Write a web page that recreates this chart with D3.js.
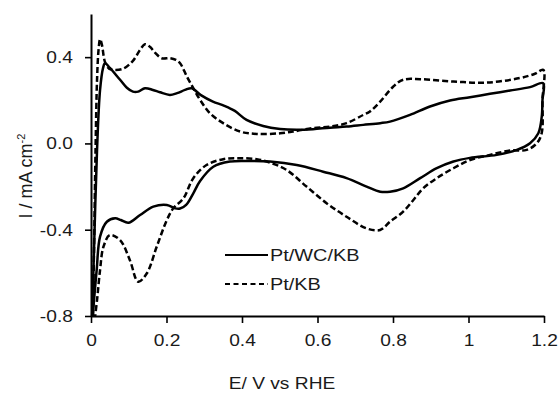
<!DOCTYPE html>
<html>
<head>
<meta charset="utf-8">
<script src="https://cdn.jsdelivr.net/npm/d3@7/dist/d3.min.js"></script>
<style>
  html, body { margin: 0; padding: 0; background: #fff; }
  svg { display: block; }
  text { font-family: "Liberation Sans", Arial, Helvetica, sans-serif; fill: #1a1a1a; }
</style>
</head>
<body>
<svg id="chart" width="560" height="393"></svg>
<script>
// Cyclic voltammograms: potential E (V vs RHE) and current density I (mA cm^-2)
const seriesNames = ["Pt/WC/KB", "Pt/KB"];

// Pt/WC/KB — anodic sweep then cathodic sweep
const wcE = [0.003, 0.008, 0.016, 0.024, 0.032, 0.037, 0.050, 0.077, 0.095, 0.111, 0.125, 0.143, 0.164, 0.183, 0.209, 0.228, 0.249, 0.267, 0.290, 0.323, 0.347, 0.363, 0.381, 0.412, 0.456, 0.501, 0.545, 0.588, 0.633, 0.677, 0.721, 0.766, 0.792, 0.845, 0.898, 0.951, 1.004, 1.057, 1.110, 1.163, 1.198,
             1.196, 1.194, 1.185, 1.163, 1.128, 1.075, 1.004, 0.960, 0.916, 0.872, 0.827, 0.792, 0.766, 0.730, 0.677, 0.615, 0.545, 0.474, 0.412, 0.368, 0.324, 0.289, 0.271, 0.252, 0.236, 0.223, 0.201, 0.165, 0.130, 0.099, 0.079, 0.064, 0.042, 0.024, 0.015, 0.008, 0.005];
const wcI = [-0.80, -0.494, -0.03, 0.248, 0.350, 0.372, 0.350, 0.295, 0.258, 0.240, 0.240, 0.256, 0.248, 0.237, 0.225, 0.233, 0.248, 0.256, 0.225, 0.194, 0.179, 0.167, 0.151, 0.109, 0.081, 0.067, 0.063, 0.066, 0.073, 0.078, 0.086, 0.094, 0.101, 0.132, 0.171, 0.199, 0.214, 0.230, 0.245, 0.261, 0.279,
             0.202, 0.124, 0.047, 0.001, -0.030, -0.053, -0.067, -0.084, -0.115, -0.161, -0.208, -0.224, -0.224, -0.200, -0.161, -0.131, -0.100, -0.084, -0.081, -0.084, -0.108, -0.174, -0.231, -0.285, -0.302, -0.301, -0.285, -0.293, -0.332, -0.368, -0.355, -0.347, -0.363, -0.432, -0.587, -0.726, -0.80];

// Pt/KB — anodic sweep then cathodic sweep
const kbE = [0.005, 0.008, 0.012, 0.016, 0.020, 0.024, 0.029, 0.037, 0.048, 0.059, 0.085, 0.111, 0.130, 0.143, 0.156, 0.170, 0.187, 0.209, 0.225, 0.236, 0.254, 0.271, 0.289, 0.315, 0.350, 0.395, 0.439, 0.501, 0.545, 0.588, 0.633, 0.677, 0.721, 0.739, 0.766, 0.801, 0.827, 0.872, 0.960, 1.048, 1.136, 1.176, 1.198,
             1.196, 1.194, 1.181, 1.154, 1.110, 1.057, 1.004, 0.960, 0.916, 0.880, 0.854, 0.827, 0.792, 0.766, 0.730, 0.677, 0.624, 0.571, 0.518, 0.474, 0.439, 0.395, 0.350, 0.306, 0.271, 0.245, 0.218, 0.201, 0.174, 0.148, 0.125, 0.103, 0.077, 0.050, 0.033, 0.024, 0.016, 0.011];
const kbI = [-0.80, -0.494, -0.03, 0.295, 0.434, 0.483, 0.457, 0.378, 0.346, 0.341, 0.346, 0.383, 0.434, 0.460, 0.448, 0.420, 0.395, 0.395, 0.387, 0.372, 0.310, 0.256, 0.202, 0.140, 0.094, 0.055, 0.044, 0.047, 0.058, 0.071, 0.078, 0.094, 0.132, 0.148, 0.194, 0.264, 0.295, 0.298, 0.287, 0.282, 0.303, 0.323, 0.341,
             0.202, 0.049, 0.001, -0.030, -0.033, -0.053, -0.077, -0.115, -0.161, -0.208, -0.262, -0.316, -0.363, -0.401, -0.394, -0.340, -0.277, -0.200, -0.123, -0.089, -0.073, -0.069, -0.073, -0.100, -0.161, -0.254, -0.301, -0.355, -0.479, -0.602, -0.641, -0.541, -0.448, -0.425, -0.479, -0.587, -0.726, -0.80];

const xTicks = [0, 0.2, 0.4, 0.6, 0.8, 1, 1.2];
const xTickLabels = ["0", "0.2", "0.4", "0.6", "0.8", "1", "1.2"];
const yTicks = [-0.8, -0.4, 0, 0.4];
const yTickLabels = ["-0.8", "-0.4", "0.0", "0.4"];

const svg = d3.select("#chart");
const plotLeft = 91, plotRight = 544, plotTop = 14, plotBottom = 316;
const stretch = 1.13;

const x = d3.scaleLinear().domain([0, 1.2]).range([plotLeft, plotRight]);
const y = d3.scaleLinear().domain([-0.8, 0.6]).range([plotBottom, plotTop]);

svg.append("defs").append("clipPath").attr("id", "plot")
  .append("rect").attr("x", plotLeft - 5).attr("y", 0)
  .attr("width", plotRight - plotLeft + 20).attr("height", plotBottom + 1);

// axes
const xAxis = svg.append("g").attr("transform", `translate(0,${plotBottom})`)
  .call(d3.axisBottom(x).tickValues(xTicks).tickSize(7).tickSizeOuter(0).tickPadding(11)
    .tickFormat((d, i) => xTickLabels[i]));
const yAxis = svg.append("g").attr("transform", `translate(${plotLeft},0)`)
  .call(d3.axisLeft(y).tickValues(yTicks).tickSize(6).tickSizeOuter(0).tickPadding(10)
    .tickFormat((d, i) => yTickLabels[i]));

[xAxis, yAxis].forEach(g => {
  g.select(".domain").attr("stroke", "#000").attr("stroke-width", 2);
  g.selectAll(".tick line").attr("stroke", "#000").attr("stroke-width", 1.6);
  g.selectAll(".tick text").attr("font-size", 17).attr("fill", "#1a1a1a")
    .attr("font-family", "Liberation Sans, Arial, sans-serif")
    .attr("transform", `scale(${stretch},1)`);
});

// curves
const line = d3.line().x(d => x(d[0])).y(d => y(d[1])).curve(d3.curveCatmullRom.alpha(0.5));
const plot = svg.append("g").attr("clip-path", "url(#plot)");
plot.append("path").datum(d3.zip(kbE, kbI))
  .attr("d", line).attr("fill", "none").attr("stroke", "#000")
  .attr("stroke-width", 2.5).attr("stroke-dasharray", "6,3");
plot.append("path").datum(d3.zip(wcE, wcI))
  .attr("d", line).attr("fill", "none").attr("stroke", "#000")
  .attr("stroke-width", 2.5);

// legend
const legend = svg.append("g");
const legendRows = [
  { name: seriesNames[0], y: 255, dash: null },
  { name: seriesNames[1], y: 284, dash: "5,3.5" }
];
legendRows.forEach(r => {
  legend.append("line").attr("x1", 225).attr("x2", 268).attr("y1", r.y).attr("y2", r.y)
    .attr("stroke", "#000").attr("stroke-width", 2.2).attr("stroke-dasharray", r.dash);
  legend.append("text").attr("transform", `translate(270,${r.y + 6}) scale(${stretch + 0.04},1)`)
    .attr("font-size", 17).text(r.name);
});

// axis titles
svg.append("text").attr("transform", `translate(282,389) scale(${stretch},1)`)
  .attr("text-anchor", "middle").attr("font-size", 17).text("E/ V vs RHE");

const yTitle = svg.append("text").attr("transform", "translate(32,176) rotate(-90)")
  .attr("text-anchor", "middle").attr("font-size", 18);
yTitle.append("tspan").text("I / mA cm");
yTitle.append("tspan").attr("font-size", 11).attr("dy", -7).text("-2");
</script>
</body>
</html>
